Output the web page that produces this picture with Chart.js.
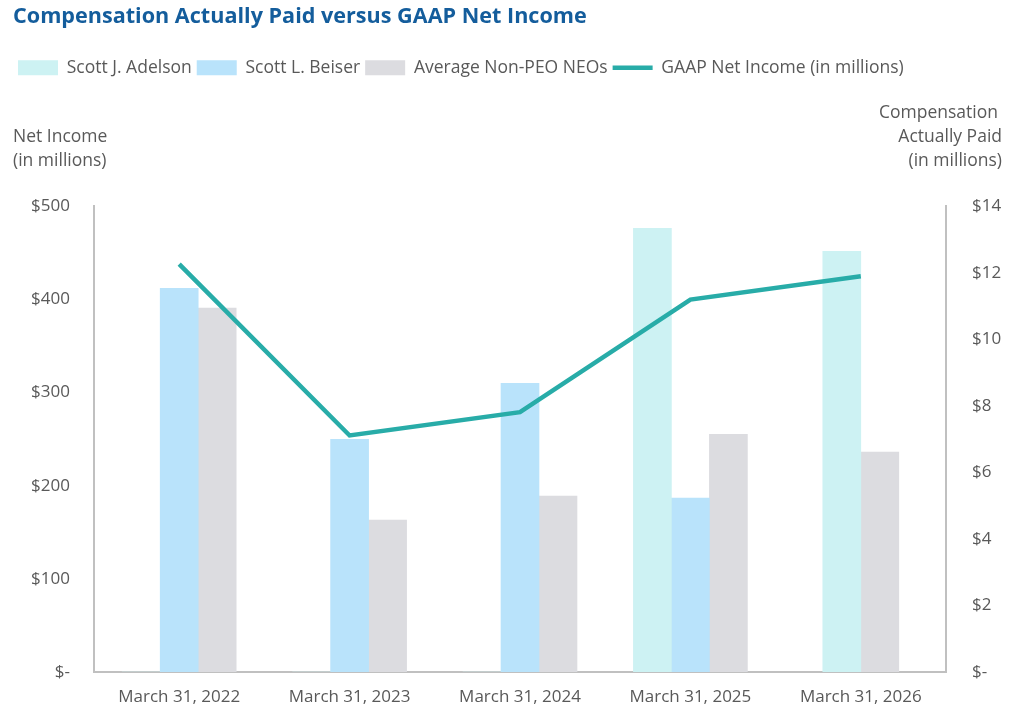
<!DOCTYPE html>
<html>
<head>
<meta charset="utf-8">
<script src="https://cdn.jsdelivr.net/npm/chart.js@4.4.0/dist/chart.umd.min.js"></script>
<style>
  body { margin: 0; background: #fff; }
</style>
</head>
<body>
<canvas id="capChart" width="1024" height="715"></canvas>
<script>
// data
const categories = ['March 31, 2022', 'March 31, 2023', 'March 31, 2024', 'March 31, 2025', 'March 31, 2026'];
const adelson = [0, 0, 0, 13.34, 12.65];                // CAP, $M (right axis)
const beiser = [11.54, 7.00, 8.68, 5.23, null];         // no 2026 entry -> slot skipped
const nonPeo = [10.94, 4.57, 5.29, 7.15, 6.61];
const netIncome = [438, 254, 279, 400, 425];            // GAAP net income, $M (left axis)

const leftTicks = { max: 500, step: 100 };
const rightTicks = { max: 14, step: 2 };

const gray = '#595959';
const fontFam = "'Open Sans', 'Noto Sans', sans-serif";

function money(v) {
    return v === 0 ? '$-' : '$' + v;
}

// side titles above the two y axes
const axisTitles = {
    id: 'axisTitles',
    afterDraw(chart) {
        const ctx = chart.ctx;
        ctx.save();
        ctx.font = '17.5px ' + fontFam;
        ctx.fillStyle = gray;
        ctx.textBaseline = 'middle';
        ctx.textAlign = 'left';
        ctx.fillText('Net Income', 13, 137);
        ctx.fillText('(in millions)', 13, 161);
        ctx.textAlign = 'right';
        ctx.fillText('Compensation', 998, 113);
        ctx.fillText('Actually Paid', 1002, 137);
        ctx.fillText('(in millions)', 1002, 161);
        ctx.restore();
    }
};

// push the plot down below the legend
const legendGap = {
    id: 'legendGap',
    beforeInit(chart) {
        const fit = chart.legend.fit;
        chart.legend.fit = function () {
            fit.bind(chart.legend)();
            this.height += 120;
        };
    }
};

const ctx = document.getElementById('capChart').getContext('2d');
const capChart = new Chart(ctx, {
    type: 'bar',
    data: {
        labels: categories,
        datasets: [
            { label: 'Scott J. Adelson', data: adelson, backgroundColor: '#cdf2f3', yAxisID: 'y1', order: 1 },
            { label: 'Scott L. Beiser', data: beiser, backgroundColor: '#b9e3fb', yAxisID: 'y1', order: 1 },
            { label: 'Average Non-PEO NEOs', data: nonPeo, backgroundColor: '#dcdce0', yAxisID: 'y1', order: 1 },
            {
                type: 'line',
                label: 'GAAP Net Income (in millions)',
                data: netIncome,
                borderColor: '#28aca8',
                backgroundColor: '#28aca8',
                borderWidth: 4.5,
                pointRadius: 0,
                tension: 0,
                yAxisID: 'y',
                order: 0
            }
        ]
    },
    options: {
        responsive: false,
        animation: false,
        layout: { padding: { left: 13, right: 0, top: 0, bottom: 0 } },
        datasets: {
            bar: { barThickness: 38, borderWidth: 0, skipNull: true }
        },
        scales: {
            x: {
                grid: { display: false, drawTicks: false },
                border: { display: true, color: '#c0c0c0', width: 2 },
                ticks: { color: gray, font: { family: fontFam, size: 17 }, padding: 15, maxRotation: 0 },
                afterFit(scale) { scale.height = 43; }
            },
            y: {
                position: 'left',
                min: 0,
                max: leftTicks.max,
                grid: { display: false, drawTicks: false },
                border: { display: true, color: '#c0c0c0', width: 2 },
                ticks: {
                    stepSize: leftTicks.step,
                    color: gray,
                    font: { family: fontFam, size: 17 },
                    padding: 24,
                    callback: (v) => money(v)
                },
                afterFit(scale) { scale.width = 81; }
            },
            y1: {
                position: 'right',
                min: 0,
                max: rightTicks.max,
                grid: { display: false, drawTicks: false },
                border: { display: true, color: '#c0c0c0', width: 2 },
                ticks: {
                    stepSize: rightTicks.step,
                    color: gray,
                    font: { family: fontFam, size: 17 },
                    padding: 26,
                    callback: (v) => money(v)
                },
                afterFit(scale) { scale.width = 78; }
            }
        },
        plugins: {
            title: {
                display: true,
                text: 'Compensation Actually Paid versus GAAP Net Income',
                align: 'start',
                color: '#145d9c',
                font: { family: fontFam, size: 21.6, weight: 'bold' },
                padding: { top: 4, bottom: 24 }
            },
            legend: {
                align: 'start',
                labels: {
                    color: gray,
                    font: { family: fontFam, size: 17.5 },
                    usePointStyle: true,
                    pointStyleWidth: 40,
                    boxHeight: 15,
                    padding: 5,
                    sort: (a, b) => a.datasetIndex - b.datasetIndex,
                    generateLabels(chart) {
                        const items = Chart.defaults.plugins.legend.labels.generateLabels(chart);
                        items.forEach((it) => {
                            const ds = chart.data.datasets[it.datasetIndex];
                            if (ds.type === 'line') {
                                it.pointStyle = 'line';
                                it.lineWidth = 4.5;
                                it.strokeStyle = ds.borderColor;
                            } else {
                                it.pointStyle = 'rect';
                                it.lineWidth = 0;
                                it.strokeStyle = ds.backgroundColor;
                            }
                        });
                        return items;
                    }
                }
            },
            tooltip: { enabled: false }
        }
    },
    plugins: [axisTitles, legendGap]
});
</script>
</body>
</html>
